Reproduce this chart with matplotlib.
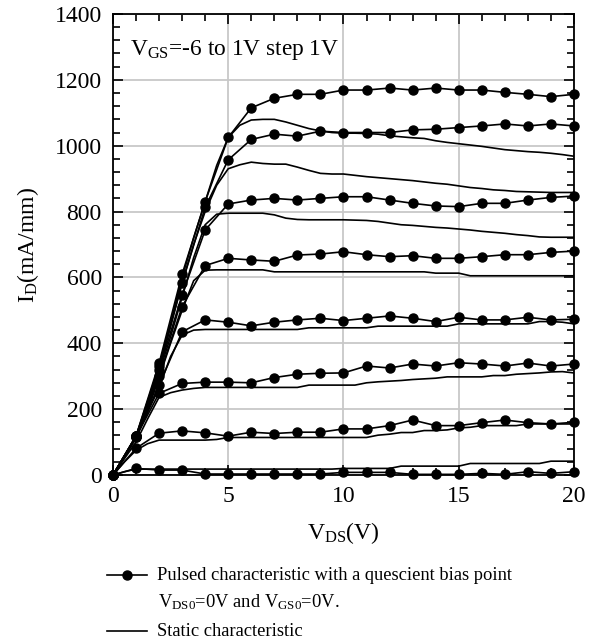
import numpy as np
import matplotlib.pyplot as plt
from matplotlib.lines import Line2D
from matplotlib.ticker import MultipleLocator

plt.rcParams['font.family'] = ['Liberation Serif', 'DejaVu Serif']
plt.rcParams['mathtext.fontset'] = 'custom'
plt.rcParams['mathtext.rm'] = 'Liberation Serif'
plt.rcParams['mathtext.it'] = 'Liberation Serif:italic'

# pulsed characteristic, one point per volt
vds_pulsed = np.arange(0, 21, 1)
pulsed_p1 = [0, 118, 339, 610, 830, 1025, 1115, 1144, 1156, 1156, 1169, 1169, 1175, 1169, 1175, 1169, 1169, 1162, 1156, 1149, 1156]
pulsed_0 = [0, 118, 330, 582, 813, 957, 1019, 1035, 1029, 1044, 1040, 1040, 1040, 1048, 1050, 1055, 1060, 1066, 1060, 1066, 1060]
pulsed_m1 = [0, 118, 319, 547, 744, 823, 835, 840, 835, 840, 845, 845, 835, 825, 817, 815, 825, 825, 835, 843, 847]
pulsed_m2 = [0, 118, 300, 511, 636, 658, 653, 649, 668, 671, 678, 669, 663, 666, 658, 658, 663, 669, 669, 676, 680]
pulsed_m3 = [0, 116, 273, 435, 471, 464, 453, 464, 471, 476, 469, 476, 483, 476, 466, 479, 471, 471, 479, 471, 473]
pulsed_m4 = [0, 116, 248, 278, 282, 282, 280, 296, 306, 309, 310, 331, 325, 337, 331, 341, 337, 331, 340, 331, 337]
pulsed_m5 = [0, 81, 127, 134, 128, 118, 130, 126, 130, 130, 140, 140, 150, 167, 150, 150, 159, 167, 159, 155, 160]
pulsed_m6 = [0, 20, 15, 15, 3, 3, 3, 3, 3, 3, 8, 8, 8, 2, 2, 2, 5, 2, 10, 5, 10]

# static characteristic, every 0.5 V
vds_static = np.arange(0, 20.5, 0.5)
static_p1 = [0, 55, 118, 210, 330, 460, 600, 720, 830, 940, 1025, 1062, 1078, 1080, 1080, 1072, 1062, 1052, 1045, 1040,
             1038, 1038, 1037, 1035, 1030, 1027, 1024, 1022, 1015, 1010, 1006, 1002, 998, 993, 988, 985, 982, 980, 977, 973, 968]
static_0 = [0, 55, 118, 205, 320, 450, 585, 700, 800, 880, 930, 942, 950, 946, 944, 944, 935, 925, 916, 914,
            914, 910, 906, 903, 900, 897, 894, 890, 886, 883, 878, 873, 870, 866, 864, 861, 860, 859, 858, 858, 858]
static_m1 = [0, 55, 115, 200, 310, 420, 540, 660, 760, 792, 795, 795, 795, 795, 790, 780, 776, 775, 775, 775,
             775, 774, 773, 770, 765, 760, 758, 755, 752, 750, 747, 744, 740, 737, 734, 730, 727, 723, 722, 722, 722]
static_m2 = [0, 55, 115, 195, 295, 400, 500, 590, 622, 623, 623, 623, 623, 623, 617, 617, 617, 617, 617, 617,
             617, 617, 617, 617, 617, 617, 617, 617, 613, 613, 613, 605, 605, 605, 605, 605, 605, 605, 605, 605, 605]
static_m3 = [0, 55, 112, 190, 265, 360, 425, 440, 442, 442, 442, 442, 442, 442, 442, 442, 442, 447, 447, 447,
             447, 447, 447, 452, 452, 452, 452, 452, 452, 452, 459, 459, 459, 459, 459, 459, 459, 466, 466, 464, 459]
static_m4 = [0, 50, 100, 170, 236, 250, 258, 263, 266, 266, 266, 266, 266, 266, 266, 266, 266, 273, 273, 273,
             273, 273, 280, 283, 285, 287, 290, 292, 294, 298, 298, 298, 298, 302, 302, 306, 308, 310, 313, 314, 310]
static_m5 = [0, 40, 75, 95, 106, 106, 106, 106, 106, 108, 114, 114, 114, 114, 114, 114, 114, 114, 114, 114,
             114, 114, 114, 121, 124, 129, 129, 135, 135, 137, 143, 145, 150, 150, 150, 150, 155, 155, 155, 155, 155]
static_m6 = [0, 10, 18, 18, 18, 18, 18, 18, 18, 18, 18, 18, 18, 18, 18, 18, 18, 18, 18, 18,
             20, 20, 20, 20, 20, 27, 27, 27, 27, 27, 27, 35, 35, 35, 35, 35, 35, 35, 42, 42, 42]

pulsed = [pulsed_p1, pulsed_0, pulsed_m1, pulsed_m2, pulsed_m3, pulsed_m4, pulsed_m5, pulsed_m6]
static = [static_p1, static_0, static_m1, static_m2, static_m3, static_m4, static_m5, static_m6]

fig = plt.figure(figsize=(5.99, 6.44), dpi=100)
ax = fig.add_axes([0.1886, 0.2624, 0.7696, 0.7159])

for s in static:
    ax.plot(vds_static, s, color='black', lw=1.2, zorder=3)
for p in pulsed:
    ax.plot(vds_pulsed, p, color='black', lw=1.2, marker='o', ms=6.5, zorder=4, clip_on=False)

ax.set_xlim(0, 20)
ax.set_ylim(0, 1400)
ax.xaxis.set_major_locator(MultipleLocator(5))
ax.xaxis.set_minor_locator(MultipleLocator(1))
ax.yaxis.set_major_locator(MultipleLocator(200))
ax.yaxis.set_minor_locator(MultipleLocator(40))
ax.tick_params(which='both', direction='in', top=True, right=True, width=1.2, labelsize=17)
ax.tick_params(which='major', length=7, pad=8)
ax.tick_params(which='minor', length=5)
for sp in ax.spines.values():
    sp.set_linewidth(1.3)
ax.grid(True, which='major', color='#c8c8c8', lw=1.3, zorder=0)
ax.set_axisbelow(True)

ax.set_xlabel(r'V$_{\mathrm{DS}}$(V)', fontsize=17, labelpad=9)
ax.set_ylabel(r'I$_{\mathrm{D}}$(mA/mm)', fontsize=17, labelpad=10)
ax.text(0.037, 0.911, r'V$_{\mathrm{GS}}$=-6 to 1V step 1V', transform=ax.transAxes,
        fontsize=16.8, va='baseline', ha='left')

# legend drawn by hand below the axes
fs_leg = 13.3
fig.add_artist(Line2D([107 / 599, 147 / 599], [1 - 575 / 644, 1 - 575 / 644], color='black', lw=1.2,
                      transform=fig.transFigure))
fig.add_artist(Line2D([127 / 599], [1 - 575 / 644], color='black', marker='o', ms=6.5,
                      transform=fig.transFigure))
fig.text(157 / 599, 1 - 575 / 644, 'Pulsed characteristic with a quescient bias point',
         fontsize=fs_leg, va='center', ha='left')
fig.text(158 / 599, 1 - 602 / 644, r'V$_{\mathrm{DS0}}$=0V and V$_{\mathrm{GS0}}$=0V.',
         fontsize=fs_leg, va='center', ha='left')
fig.add_artist(Line2D([107 / 599, 147 / 599], [1 - 631 / 644, 1 - 631 / 644], color='black', lw=1.2,
                      transform=fig.transFigure))
fig.text(157 / 599, 1 - 631 / 644, 'Static characteristic', fontsize=fs_leg, va='center', ha='left')

fig.savefig('out.png', dpi=100)
